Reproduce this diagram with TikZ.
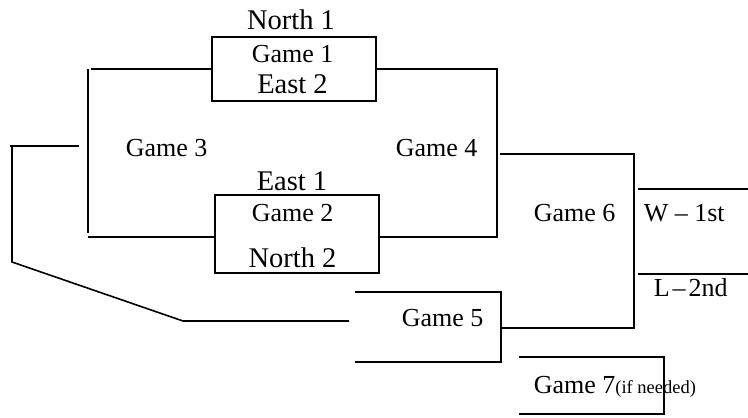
\documentclass[tikz,border=0pt]{standalone}
\usepackage{fontspec}
\setmainfont{Liberation Serif}
\begin{document}
\begin{tikzpicture}[x=1pt,y=-1pt,line width=1.6pt,
  lbl/.style={anchor=base west,inner sep=0pt,font=\fontsize{26}{30}\selectfont},
  team/.style={anchor=base,inner sep=0pt,font=\fontsize{28.5}{32}\selectfont},
  gbox/.style={draw,line width=2pt,minimum width=164pt,inner sep=0pt},
  wire/.style={line width=1.6pt}]
\useasboundingbox (0,0) rectangle (748,418);
% boxes
\node[gbox,minimum height=64pt] (b1) at (294,69) {};
\node[gbox,minimum height=78pt] (b2) at (297,234) {};
% texts
\node[team] (n1) at (291,29) {North 1};
\node[lbl] (g1) at (251,62) {Game 1};
\node[team] (e2) at (292.5,93) {East 2};
\node[team] (e1) at (292,190) {East 1};
\node[lbl] (g2) at (251,221) {Game 2};
\node[team] (n2) at (292.5,267) {North 2};
\node[lbl] (g3) at (125,156) {Game 3};
\node[lbl] (g4) at (395,156) {Game 4};
\node[lbl] (g6) at (533,221) {Game 6};
\node[lbl] (w1) at (643,221) {W – 1st};
\node[lbl] (l2) at (653,296) {L\hspace{3pt}–\hspace{3pt}2nd};
\node[lbl] (g5) at (401,326) {Game 5};
\node[lbl] (g7) at (533,393) {Game 7\fontsize{18.5}{20}\selectfont(if needed)};
% coordinates
\coordinate (g3tl) at (91,69);
\coordinate (g3vt) at (88,69);
\coordinate (g3vb) at (88,233);
\coordinate (g3bl) at (88,237);
\coordinate (g3br) at (b2.west |- g3bl);
\coordinate (g4tr) at (497,69);
\coordinate (g4br) at (497,237);
\coordinate (g4bl) at (b2.east |- g4br);
\coordinate (o3a) at (10,146);
\coordinate (o3b) at (79,146);
\coordinate (o3c) at (12,146);
\coordinate (o3d) at (12,262);
\coordinate (o3e) at (183,321);
\coordinate (o3f) at (349,321);
\coordinate (g5tl) at (355,292);
\coordinate (g5tr) at (501,292);
\coordinate (g5br) at (501,362);
\coordinate (g5bl) at (355,362);
\coordinate (g6tl) at (500,154);
\coordinate (g6tr) at (634,154);
\coordinate (g6br) at (634,328);
\coordinate (g6bl) at (501,328);
\coordinate (wl) at (638,189);
\coordinate (wr) at (748,189);
\coordinate (ll) at (638,274);
\coordinate (lr) at (748,274);
\coordinate (g7tl) at (519,357);
\coordinate (g7tr) at (664,357);
\coordinate (g7br) at (664,414);
\coordinate (g7bl) at (519,414);
% connectors
\draw[wire] (b1.west) -- (g3tl);
\draw[wire] (g3vt) -- (g3vb);
\draw[wire] (g3bl) -- (g3br);
\draw[wire] (b1.east) -- (g4tr) -- (g4br) -- (g4bl);
\draw[wire] (o3a) -- (o3b);
\draw[wire] (o3c) -- (o3d) -- (o3e) -- (o3f);
\draw[wire] (g5tl) -- (g5tr) -- (g5br) -- (g5bl);
\draw[wire] (g6tl) -- (g6tr) -- (g6br) -- (g6bl);
\draw[wire] (wl) -- (wr);
\draw[wire] (ll) -- (lr);
\draw[wire] (g7tl) -- (g7tr) -- (g7br) -- (g7bl);
\end{tikzpicture}
\end{document}
